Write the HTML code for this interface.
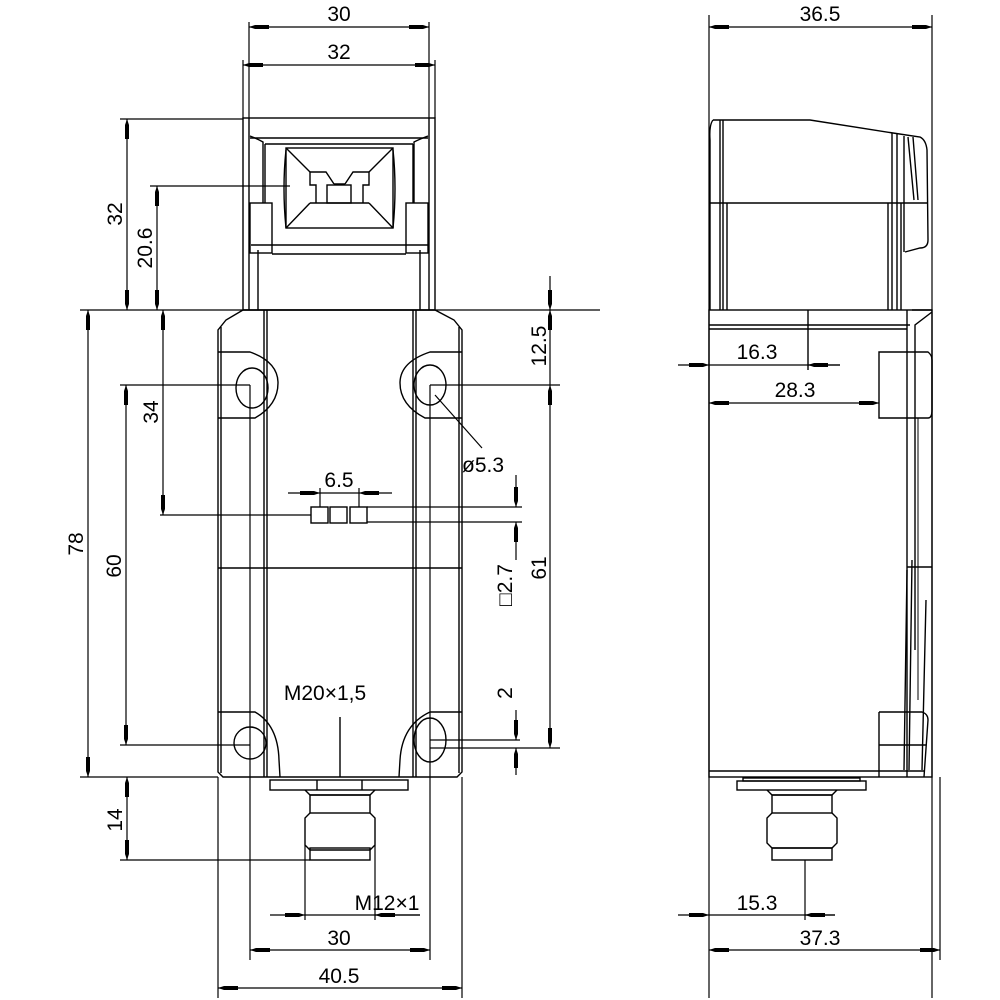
<!DOCTYPE html>
<html><head><meta charset="utf-8"><style>
html,body{margin:0;padding:0;background:#fff}
svg{display:block}
text{font-family:"Liberation Sans",sans-serif;font-size:21px;fill:#000;font-weight:300}
</style></head><body>
<svg width="1000" height="1000" viewBox="0 0 1000 1000" xmlns="http://www.w3.org/2000/svg">
<defs>
<marker id="a" viewBox="0 0 20 6" refX="20" refY="3" markerWidth="20" markerHeight="6" markerUnits="userSpaceOnUse" orient="auto-start-reverse">
<polygon points="20,3 14,1 0,1 0,5 14,5" fill="#000"/>
</marker>
</defs>
<g stroke="#000" stroke-width="1.4" fill="none">
<rect x="243" y="118" width="192" height="192"/>
<line x1="249" y1="118" x2="249" y2="310"/><line x1="429" y1="118" x2="429" y2="310"/>
<path d="M250,136 Q258,139 263,142 L263,203 M428,136 Q420,139 414,142 L414,203"/>
<line x1="250" y1="138" x2="428" y2="138"/>
<line x1="265" y1="144" x2="413" y2="144"/>
<line x1="265" y1="144" x2="265" y2="203"/><line x1="413" y1="144" x2="413" y2="203"/>
<rect x="250" y="203" width="22" height="50"/><rect x="406" y="203" width="22" height="50"/>
<line x1="251" y1="245" x2="428" y2="245"/>
<line x1="272" y1="254" x2="406" y2="254"/>
<line x1="258" y1="250" x2="258" y2="310"/><line x1="420" y1="250" x2="420" y2="310"/>
<rect x="286" y="148" width="107" height="80"/>
<path d="M286,148 L310,172 M393,148 L369,172 M286,228 L310,203 M393,228 L369,203"/>
<path d="M286,150 Q282,188 286,228 M393,150 Q397,188 393,228"/>
<path d="M310,172 L326,172 L334,184 M369,172 L353,172 L345,184 M334,184 L345,184"/>
<path d="M310,172 L310,185 L316,185 L316,203 M369,172 L369,185 L363,185 L363,203"/>
<rect x="327" y="185" width="24" height="18"/>
<line x1="310" y1="203" x2="369" y2="203"/>
<path d="M243,310 L226,320 L218,330 L218,772 L223,777 L457,777 L462,772 L462,330 L454,320 L435,310 Z"/>
<line x1="221" y1="327" x2="221" y2="773"/><line x1="459" y1="327" x2="459" y2="773"/>
<line x1="264" y1="310" x2="264" y2="777"/><line x1="267" y1="310" x2="267" y2="777"/>
<line x1="413" y1="310" x2="413" y2="777"/><line x1="416" y1="310" x2="416" y2="777"/>
<path d="M218,352 L250,352 Q278,362 278,383 Q278,405 255,418 L218,418"/>
<path d="M462,352 L430,352 Q400,362 400,383 Q400,405 425,418 L462,418"/>
<ellipse cx="252" cy="388" rx="16" ry="20"/>
<ellipse cx="430" cy="385" rx="16" ry="20"/>
<line x1="218" y1="568" x2="462" y2="568"/>
<path d="M218,712 L255,712 Q278,725 279,760 L280,777"/>
<path d="M462,712 L430,712 Q402,725 400,760 L399,777"/>
<circle cx="250" cy="743" r="16"/>
<ellipse cx="430" cy="740" rx="16" ry="22"/>
<line x1="340" y1="717" x2="340" y2="777"/>
<rect x="270" y="780" width="138" height="10"/>
<line x1="317" y1="780" x2="317" y2="790"/><line x1="362" y1="780" x2="362" y2="790"/>
<path d="M305,790 L310,795 L370,795 L375,790"/>
<rect x="310" y="795" width="60" height="18"/>
<path d="M310,813 L305,818 L305,845 L310,850 L370,850 L375,845 L375,818 L370,813"/>
<rect x="310" y="848" width="60" height="12"/>
<rect x="311" y="507" width="17" height="16"/><rect x="330" y="507" width="17" height="16"/><rect x="350" y="507" width="17" height="16"/>
</g>
<g stroke="#000" stroke-width="1.2" fill="none">
<line x1="249" y1="22" x2="249" y2="118"/><line x1="429" y1="22" x2="429" y2="118"/>
<line x1="243" y1="60" x2="243" y2="118"/><line x1="435" y1="60" x2="435" y2="118"/>
<line x1="249" y1="27" x2="429" y2="27" marker-start="url(#a)" marker-end="url(#a)"/>
<line x1="243" y1="65" x2="435" y2="65" marker-start="url(#a)" marker-end="url(#a)"/>
<line x1="120" y1="119" x2="243" y2="119"/>
<line x1="150" y1="186" x2="290" y2="186"/>
<line x1="80" y1="310" x2="600" y2="310"/>
<line x1="127" y1="119" x2="127" y2="310" marker-start="url(#a)" marker-end="url(#a)"/>
<line x1="157" y1="186" x2="157" y2="310" marker-start="url(#a)" marker-end="url(#a)"/>
<line x1="88" y1="310" x2="88" y2="777" marker-start="url(#a)" marker-end="url(#a)"/>
<line x1="163" y1="310" x2="163" y2="515" marker-start="url(#a)" marker-end="url(#a)"/>
<line x1="120" y1="385" x2="250" y2="385"/>
<line x1="126" y1="385" x2="126" y2="745" marker-start="url(#a)" marker-end="url(#a)"/>
<line x1="120" y1="745" x2="250" y2="745"/>
<line x1="160" y1="515" x2="311" y2="515"/>
<line x1="80" y1="777" x2="218" y2="777"/>
<line x1="120" y1="860" x2="310" y2="860"/>
<line x1="127" y1="777" x2="127" y2="860" marker-start="url(#a)" marker-end="url(#a)"/>
<line x1="250" y1="385" x2="250" y2="960"/>
<line x1="430" y1="385" x2="430" y2="960"/>
<line x1="218" y1="777" x2="218" y2="998"/><line x1="462" y1="777" x2="462" y2="998"/>
<line x1="250" y1="950" x2="430" y2="950" marker-start="url(#a)" marker-end="url(#a)"/>
<line x1="218" y1="988" x2="462" y2="988" marker-start="url(#a)" marker-end="url(#a)"/>
<line x1="305" y1="845" x2="305" y2="920"/><line x1="375" y1="845" x2="375" y2="920"/>
<line x1="270" y1="915" x2="305" y2="915" marker-end="url(#a)"/>
<line x1="420" y1="915" x2="375" y2="915" marker-end="url(#a)"/>
<line x1="305" y1="915" x2="420" y2="915"/>
<line x1="320" y1="488" x2="320" y2="507"/><line x1="359" y1="488" x2="359" y2="507"/>
<line x1="288" y1="493" x2="320" y2="493" marker-end="url(#a)"/>
<line x1="392" y1="493" x2="359" y2="493" marker-end="url(#a)"/>
<line x1="320" y1="493" x2="359" y2="493"/>
<line x1="367" y1="507" x2="522" y2="507"/><line x1="367" y1="522" x2="522" y2="522"/>
<line x1="516" y1="475" x2="516" y2="507" marker-end="url(#a)"/>
<line x1="516" y1="560" x2="516" y2="522" marker-end="url(#a)"/>
<line x1="430" y1="385" x2="560" y2="385"/>
<line x1="550" y1="276" x2="550" y2="310" marker-end="url(#a)"/>
<line x1="550" y1="310" x2="550" y2="385" marker-start="url(#a)"/>
<line x1="550" y1="385" x2="550" y2="748" marker-start="url(#a)" marker-end="url(#a)"/>
<line x1="430" y1="740" x2="520" y2="740"/><line x1="430" y1="748" x2="560" y2="748"/>
<line x1="516" y1="710" x2="516" y2="740" marker-end="url(#a)"/>
<line x1="516" y1="775" x2="516" y2="748" marker-end="url(#a)"/>
<line x1="435" y1="395" x2="482" y2="448"/>
<line x1="709" y1="15" x2="709" y2="998"/><line x1="932" y1="15" x2="932" y2="998"/>
<line x1="709" y1="27" x2="932" y2="27" marker-start="url(#a)" marker-end="url(#a)"/>
</g>
<g stroke="#000" stroke-width="1.4" fill="none">
<path d="M713,120 L810,120 L893,133 L920,137 Q926,140 927,150 L928,240 Q928,248 920,248 L905,252"/>
<path d="M713,120 Q709,125 710,140 L710,310"/>
<line x1="720" y1="120" x2="720" y2="310"/><line x1="723" y1="120" x2="723" y2="310"/>
<line x1="892" y1="133" x2="892" y2="310"/><line x1="897" y1="134" x2="897" y2="310"/>
<line x1="904" y1="136" x2="904" y2="252"/>
<path d="M908,137 L914,200 M913,137 L918,200"/>
<line x1="710" y1="203" x2="928" y2="203"/>
<line x1="727" y1="203" x2="727" y2="310"/>
<line x1="888" y1="203" x2="888" y2="310"/>
<line x1="901" y1="203" x2="901" y2="310"/>
<rect x="709" y="310" width="223" height="467"/>
<line x1="709" y1="325" x2="910" y2="325"/><line x1="709" y1="329" x2="907" y2="329"/>
<path d="M912,310 L932,310 M932,312 L915,325 L915,650"/>
<line x1="907" y1="310" x2="907" y2="777"/>
<line x1="808" y1="310" x2="808" y2="370"/>
<path d="M879,352 L928,352 Q932,355 932,360 L932,410 Q932,418 928,418 L879,418 Z"/>
<line x1="918" y1="418" x2="918" y2="700" stroke-width="1"/>
<path d="M912,560 L909,770 M907,570 L904,770 M926,600 L922,770"/>
<line x1="907" y1="567" x2="932" y2="567"/>
<path d="M879,712 L922,712 Q928,714 928,720 L924,777 M879,712 L879,777 M879,745 L926,745"/>
<line x1="709" y1="771" x2="924" y2="771"/>
<rect x="743" y="778" width="117" height="3"/>
<rect x="737" y="781" width="129" height="9"/>
<path d="M767,790 L772,795 L832,795 L837,790"/>
<rect x="772" y="795" width="60" height="18"/>
<path d="M772,813 L767,818 L767,843 L772,848 L832,848 L837,843 L837,818 L832,813"/>
<rect x="772" y="848" width="60" height="12"/>
</g>
<g stroke="#000" stroke-width="1.2" fill="none">
<line x1="678" y1="365" x2="709" y2="365" marker-end="url(#a)"/>
<line x1="709" y1="365" x2="840" y2="365"/>
<line x1="840" y1="365" x2="808" y2="365" marker-end="url(#a)"/>
<line x1="709" y1="403" x2="879" y2="403" marker-start="url(#a)" marker-end="url(#a)"/>
<line x1="805" y1="860" x2="805" y2="920"/>
<line x1="678" y1="915" x2="709" y2="915" marker-end="url(#a)"/>
<line x1="709" y1="915" x2="835" y2="915"/>
<line x1="835" y1="915" x2="805" y2="915" marker-end="url(#a)"/>
<line x1="940" y1="777" x2="940" y2="960"/>
<line x1="709" y1="950" x2="940" y2="950" marker-start="url(#a)" marker-end="url(#a)"/>
</g>
<text x="339" y="21" text-anchor="middle">30</text>
<text x="339" y="59" text-anchor="middle">32</text>
<text transform="translate(122,214) rotate(-90)" text-anchor="middle">32</text>
<text transform="translate(152,248) rotate(-90)" text-anchor="middle">20.6</text>
<text transform="translate(83,544) rotate(-90)" text-anchor="middle">78</text>
<text transform="translate(158,412) rotate(-90)" text-anchor="middle">34</text>
<text transform="translate(121,566) rotate(-90)" text-anchor="middle">60</text>
<text transform="translate(122,820) rotate(-90)" text-anchor="middle">14</text>
<text transform="translate(546,346) rotate(-90)" text-anchor="middle">12.5</text>
<text transform="translate(546,568) rotate(-90)" text-anchor="middle">61</text>
<text transform="translate(512,585) rotate(-90)" text-anchor="middle">□2.7</text>
<text transform="translate(512,693) rotate(-90)" text-anchor="middle">2</text>
<text x="339" y="487" text-anchor="middle">6.5</text>
<text x="462" y="472">ø5.3</text>
<text x="325" y="700" text-anchor="middle">M20×1,5</text>
<text x="387" y="910" text-anchor="middle">M12×1</text>
<text x="339" y="945" text-anchor="middle">30</text>
<text x="339" y="983" text-anchor="middle">40.5</text>
<text x="820" y="21" text-anchor="middle">36.5</text>
<text x="757" y="359" text-anchor="middle">16.3</text>
<text x="795" y="397" text-anchor="middle">28.3</text>
<text x="757" y="910" text-anchor="middle">15.3</text>
<text x="820" y="945" text-anchor="middle">37.3</text>
</svg>
</body></html>
